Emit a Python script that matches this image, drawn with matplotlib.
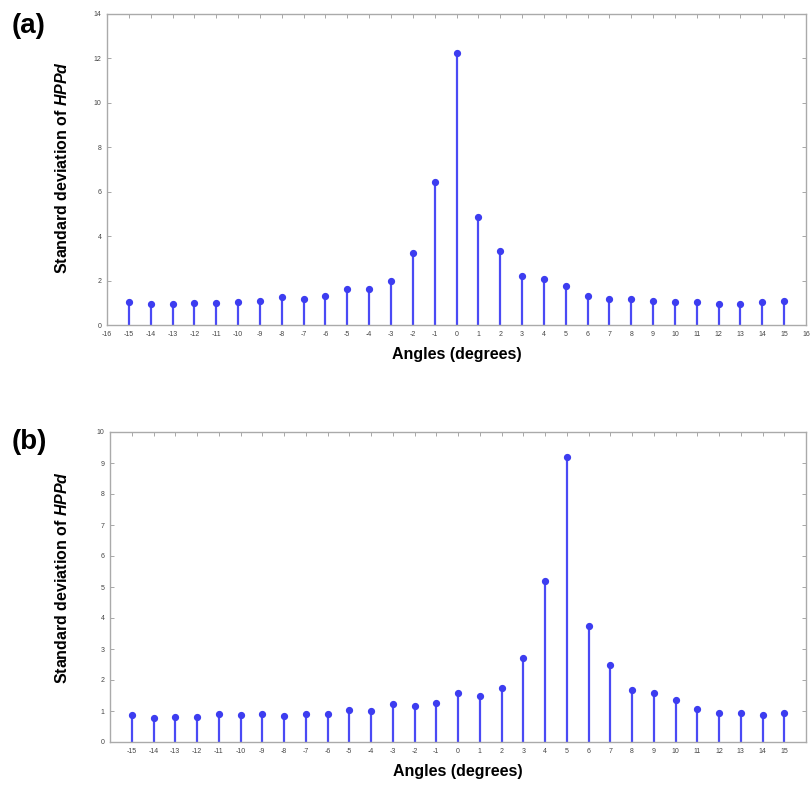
import matplotlib
matplotlib.use("Agg")
import matplotlib.pyplot as plt

plt.rcParams['font.family'] = ['Liberation Sans', 'DejaVu Sans']
plt.rcParams['axes.unicode_minus'] = False
plt.rcParams['mathtext.fontset'] = 'custom'
plt.rcParams['mathtext.bfit'] = 'Liberation Sans:italic:bold'
plt.rcParams['mathtext.it'] = 'Liberation Sans:italic:bold'

angles = list(range(-15, 16))
std_a = [1.05, 0.95, 0.95, 0.97, 0.97, 1.05, 1.08, 1.27, 1.17, 1.30, 1.63, 1.62, 2.00, 3.26,
         6.44, 12.24, 4.85, 3.35, 2.20, 2.06, 1.76, 1.32, 1.16, 1.17, 1.08, 1.05, 1.03, 0.96,
         0.96, 1.03, 1.08]
std_b = [0.86, 0.79, 0.82, 0.80, 0.89, 0.86, 0.89, 0.84, 0.89, 0.89, 1.02, 1.00, 1.22, 1.15,
         1.26, 1.58, 1.50, 1.74, 2.71, 5.18, 9.19, 3.75, 2.50, 1.69, 1.58, 1.37, 1.05, 0.92,
         0.94, 0.88, 0.94]
xticks_a = list(range(-16, 17))
xticks_b = list(range(-15, 16))
yticks_a = list(range(0, 15, 2))
yticks_b = list(range(0, 11))

W, H = 810, 802
fig = plt.figure(figsize=(W / 100, H / 100), dpi=100)

def px_axes(l, t, r, b):
    return fig.add_axes([l / W, 1 - b / H, (r - l) / W, (b - t) / H])

ax_a = px_axes(107, 14, 806, 325)
ax_b = px_axes(110, 432, 806, 742)

stem_col = '#4a4af5'
mk_col = '#3d3df0'

for ax, vals, xt, yt, ymax in [
    (ax_a, std_a, xticks_a, yticks_a, 14),
    (ax_b, std_b, xticks_b, yticks_b, 10),
]:
    ml, sl, bl = ax.stem(angles, vals, basefmt=' ')
    plt.setp(sl, color=stem_col, linewidth=1.6)
    plt.setp(ml, color=mk_col, markersize=4.2, marker='o')
    ax.set_xlim(-16, 16)
    ax.set_ylim(0, ymax)
    ax.set_xticks(xt)
    ax.set_yticks(yt)
    ax.tick_params(axis='both', which='both', direction='in', length=3, width=0.6,
                   colors='#999999', labelsize=5, labelcolor='#444444',
                   top=True, right=True, pad=4)
    for s in ax.spines.values():
        s.set_color('#aaaaaa')
        s.set_linewidth(1.0)
    ax.set_xlabel('Angles (degrees)', fontsize=11.5, fontweight='bold', labelpad=7)

for ycen in [168, 578]:
    fig.text(62 / W, 1 - ycen / H, r'Standard deviation of $\mathit{HPPd}$', rotation=90,
             ha='center', va='center', fontsize=11.5, fontweight='bold')

fig.text(12 / W, 1 - 26 / H, '(a)', fontsize=20, fontweight='bold', va='center', ha='left')
fig.text(12 / W, 1 - 442 / H, '(b)', fontsize=20, fontweight='bold', va='center', ha='left')

fig.savefig('out.png', dpi=100)
